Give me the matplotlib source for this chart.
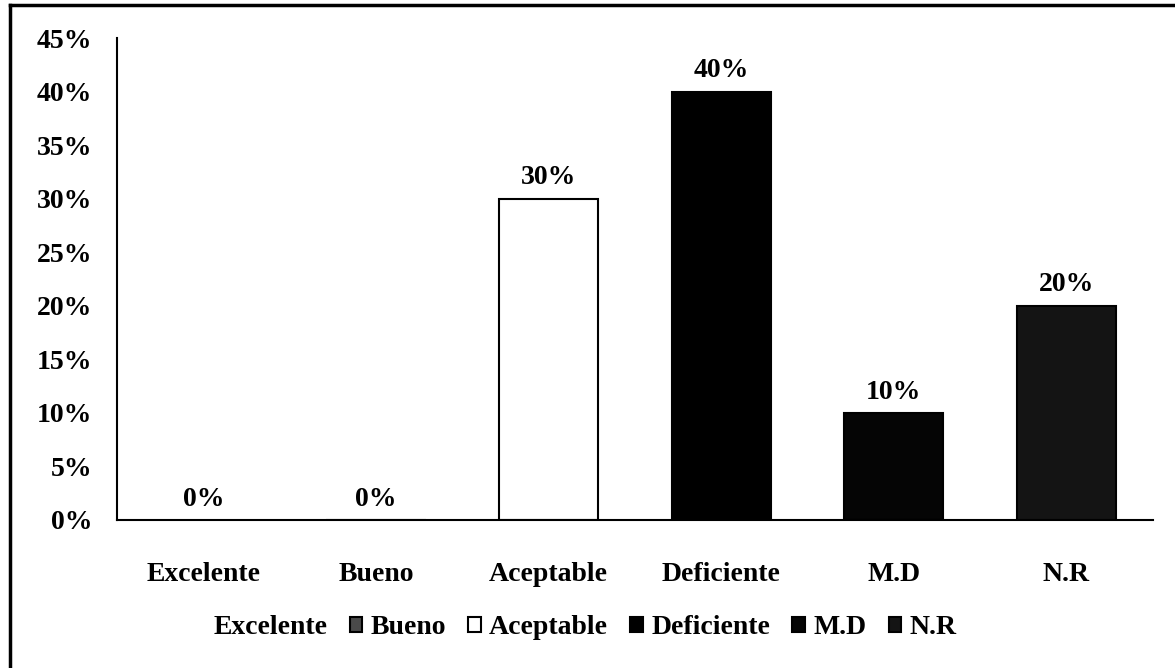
"""Bar chart: distribucion porcentual por categoria"""
import matplotlib.pyplot as plt
from matplotlib.lines import Line2D
from matplotlib.patches import Patch

plt.rcParams["font.family"] = ["Liberation Serif", "DejaVu Serif"]
plt.rcParams["font.weight"] = "bold"

categories = ["Excelente", "Bueno", "Aceptable", "Deficiente", "M.D", "N.R"]
values = [0, 0, 30, 40, 10, 20]
labels = ["0%", "0%", "30%", "40%", "10%", "20%"]
colors = ["#ffffff", "#4a4a4a", "#ffffff", "#000000", "#050505", "#141414"]
edges = ["none", "#000000", "#000000", "#000000", "#000000", "#000000"]
yticks = [0, 5, 10, 15, 20, 25, 30, 35, 40, 45]

FS = 20

fig = plt.figure(figsize=(11.75, 6.68), dpi=100)
ax = fig.add_axes([0.0996, 0.2216, 0.8814, 0.7214])

x = list(range(len(categories)))
bars = ax.bar(x, values, width=0.575, color=colors, edgecolor=edges, linewidth=1.5)

for rect, lab in zip(bars, labels):
    ax.annotate(
        lab,
        (rect.get_x() + rect.get_width() / 2, rect.get_height()),
        xytext=(0, 6),
        textcoords="offset points",
        ha="center",
        va="bottom",
        fontsize=FS,
        fontweight="bold",
    )

ax.set_xlim(-0.5, len(categories) - 0.5)
ax.set_ylim(0, 45)
ax.set_yticks(yticks)
ax.set_yticklabels([f"{t}%" for t in yticks], fontsize=FS, fontweight="bold")
ax.set_xticks(x)
ax.set_xticklabels(categories, fontsize=FS, fontweight="bold")
ax.tick_params(axis="y", length=0, pad=18)
ax.tick_params(axis="x", length=0, pad=30)
for side in ["top", "right"]:
    ax.spines[side].set_visible(False)
ax.spines["left"].set_linewidth(1.5)
ax.spines["bottom"].set_linewidth(1.5)

handles = [
    Patch(facecolor=c, edgecolor=e, linewidth=1.5) for c, e in zip(colors, edges)
]
fig.legend(
    handles,
    categories,
    loc="center",
    bbox_to_anchor=(0.489, 0.06),
    ncol=6,
    frameon=False,
    fontsize=FS,
    handlelength=0.45,
    handleheight=0.45,
    handletextpad=0.3,
    columnspacing=0.8,
)

# borde exterior (solo visibles arriba e izquierda en el escaneo)
fig.add_artist(Line2D([10 / 1175, 10 / 1175], [0, 1 - 5 / 668], color="black", lw=2.5))
fig.add_artist(Line2D([10 / 1175, 1], [1 - 5 / 668, 1 - 5 / 668], color="black", lw=2.5))

fig.savefig("out.png", dpi=100)
